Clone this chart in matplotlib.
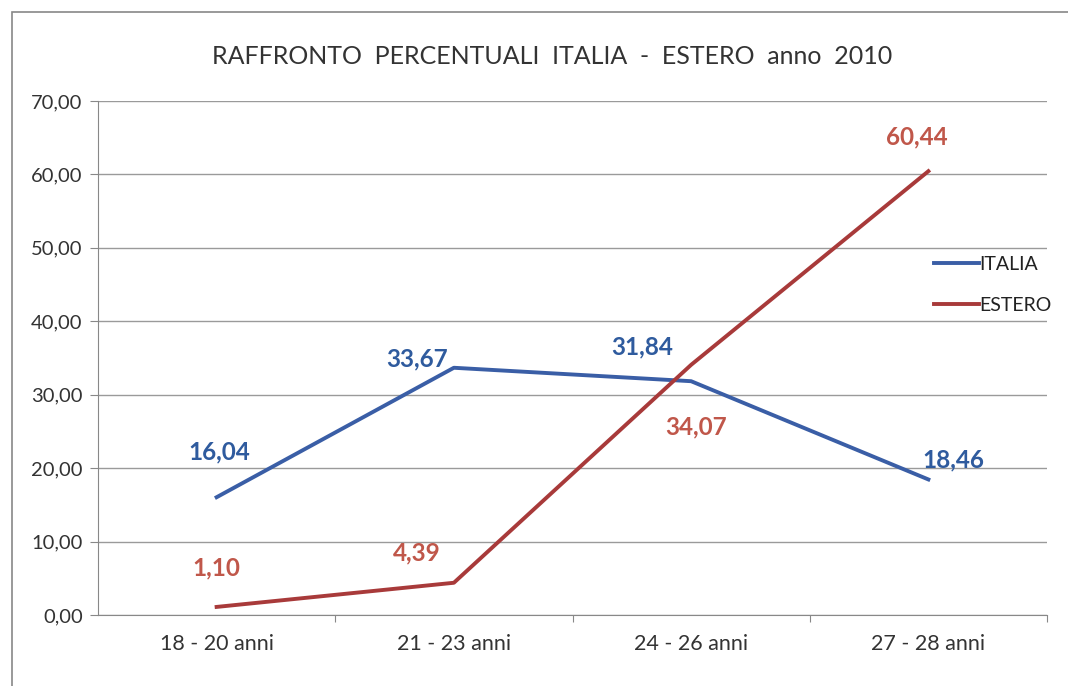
import matplotlib.pyplot as plt
from matplotlib.patches import Rectangle

categorie = ['18 - 20 anni', '21 - 23 anni', '24 - 26 anni', '27 - 28 anni']
italia = [16.04, 33.67, 31.84, 18.46]
estero = [1.10, 4.39, 34.07, 60.44]
yticks = [0, 10, 20, 30, 40, 50, 60, 70]

blu = '#3a5ea6'
rosso = '#a83a3a'
blu_txt = '#2f5b9e'
rosso_txt = '#c0574a'

plt.rcParams['font.family'] = ['Lato', 'DejaVu Sans']

W, H = 1068, 686
fig = plt.figure(figsize=(W / 100, H / 100), dpi=100)
ax = fig.add_axes([98 / W, 1 - 615 / H, (1047 - 98) / W, (615 - 101) / H])

x = list(range(len(categorie)))
ax.plot(x, italia, color=blu, lw=2.8, label='ITALIA', solid_joinstyle='round')
ax.plot(x, estero, color=rosso, lw=2.8, label='ESTERO', solid_joinstyle='round')

ax.set_xlim(-0.5, 3.5)
ax.set_ylim(0, 70)
ax.set_yticks(yticks)
ax.set_yticklabels([('%.2f' % v).replace('.', ',') for v in yticks])
ax.set_xticks([0.5, 1.5, 2.5, 3.5])
ax.set_xticklabels([])
ax.set_xticks(x, minor=True)
ax.set_xticklabels(categorie, minor=True)
ax.tick_params(axis='x', which='minor', length=0, pad=14, labelsize=15.5, colors='#333333')
ax.tick_params(axis='x', which='major', length=5, direction='out', color='#888888')
ax.tick_params(axis='y', length=6, direction='out', color='#888888', labelsize=14.5,
               labelcolor='#333333', pad=5)
ax.grid(axis='y', color='#9a9a9a', lw=1)
ax.set_axisbelow(True)
for s in ['top', 'right']:
    ax.spines[s].set_visible(False)
ax.spines['left'].set_color('#888888')
ax.spines['bottom'].set_color('#888888')

# etichette dati (spostamenti in pixel)
off_it = [(3, 45), (-37, 9), (-49, 34), (25, 20)]
off_es = [(0, 39), (-37, 30), (5, -62), (-12, 34)]
for i in x:
    ax.annotate(('%.2f' % italia[i]).replace('.', ','), (i, italia[i]),
                xytext=off_it[i], textcoords='offset pixels', ha='center',
                va='center', color=blu_txt, fontsize=17.5, fontweight='bold')
    ax.annotate(('%.2f' % estero[i]).replace('.', ','), (i, estero[i]),
                xytext=off_es[i], textcoords='offset pixels', ha='center',
                va='center', color=rosso_txt, fontsize=17.5, fontweight='bold')

ax.legend(loc='upper left', bbox_to_anchor=(934 / W, 1 - 256 / H),
          bbox_transform=fig.transFigure, frameon=False, fontsize=14,
          handlelength=2.3, handletextpad=0.05, labelspacing=1.25,
          borderaxespad=0, borderpad=0, labelcolor='#222222')

fig.text(552 / W, 1 - 57 / H, 'RAFFRONTO  PERCENTUALI  ITALIA  -  ESTERO  anno  2010',
         ha='center', va='center', fontsize=18, color='#333333')

fig.patches.append(Rectangle((12 / W, -0.01), 1.2, 1 - 12 / H + 0.01,
                             transform=fig.transFigure, fill=False,
                             ec='#888888', lw=1.2))

fig.savefig('out.png', dpi=100, facecolor='white')
